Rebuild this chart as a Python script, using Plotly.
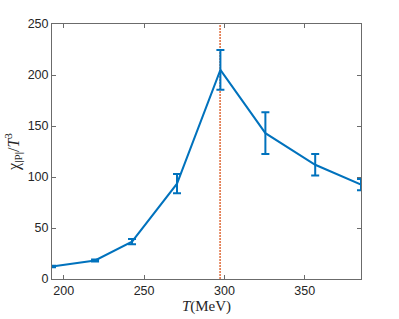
import plotly.graph_objects as go

T = [192.7, 219.5, 242.5, 270.5, 297.5, 325.5, 356.5, 385.0]
chi = [12.3, 18.2, 36.6, 93.5, 205.0, 143.0, 112.0, 92.5]
err = [0.8, 1.0, 2.5, 9.5, 19.5, 20.5, 10.5, 5.5]
Tc = 297.3

x_ticks = [200, 250, 300, 350]
y_ticks = [0, 50, 100, 150, 200, 250]

fig = go.Figure()
fig.add_trace(go.Scatter(
    x=[Tc, Tc], y=[0, 250], mode="lines",
    line=dict(color="#D95319", width=1.3, dash="2px,1px"), showlegend=False))
fig.add_trace(go.Scatter(
    x=T, y=chi, mode="lines",
    line=dict(color="#0072BD", width=2),
    error_y=dict(type="data", array=err, visible=True, color="#0072BD",
                 thickness=2, width=4),
    showlegend=False, cliponaxis=False))

axis_common = dict(showgrid=False, zeroline=False, showline=True, mirror="ticks",
                   linecolor="#6b6b6b", linewidth=1, ticks="inside", ticklen=4,
                   tickcolor="#6b6b6b", automargin=False,
                   tickfont=dict(family="Liberation Sans, Arial", size=12.5, color="#262626"))

fig.update_layout(
    width=399, height=319,
    margin=dict(l=52, r=38, t=24, b=40),
    paper_bgcolor="white", plot_bgcolor="white",
    xaxis=dict(range=[192.7, 385], tickvals=x_ticks,
               title=dict(text="<i>T</i>(MeV)", standoff=2,
                          font=dict(family="Liberation Serif, Times New Roman", size=15, color="#262626")),
               **axis_common),
    yaxis=dict(range=[0, 250], tickvals=y_ticks,
               title=dict(text="χ<sub>|P|</sub>/<i>T</i><sup>3</sup>", standoff=4,
                          font=dict(family="Liberation Serif, Times New Roman", size=16, color="#262626")),
               **axis_common),
)

fig.write_html("out.html", config={"displayModeBar": False},
               post_script="document.body.style.margin='0px';document.body.style.padding='0px';")
